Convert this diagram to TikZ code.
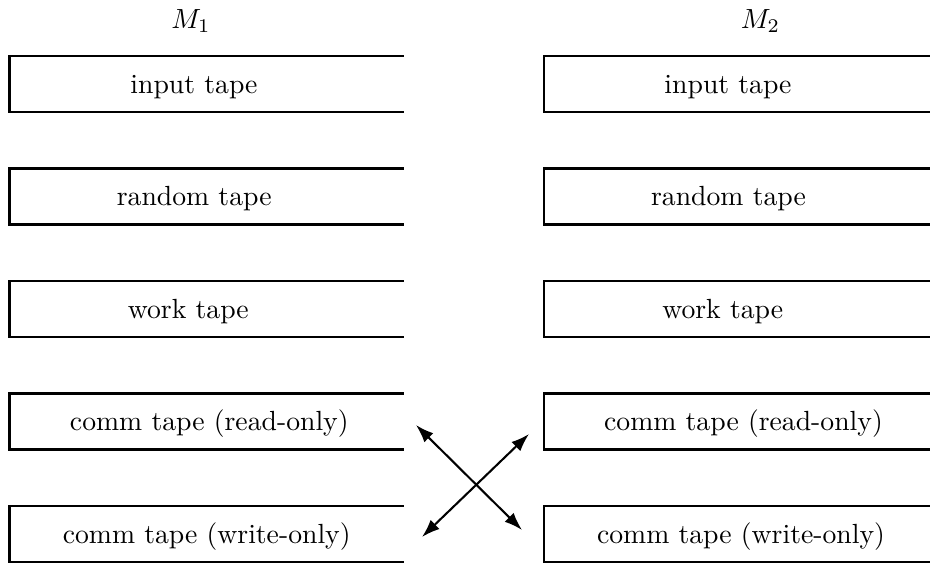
\documentclass[tikz,border=0pt]{standalone}
\usetikzlibrary{arrows.meta}
\begin{document}
\begin{tikzpicture}[x=0.361pt,y=-0.361pt,
  tapeline/.style={line width=0.75pt},
  lbl/.style={anchor=base, inner sep=0pt},
  link/.style={line width=0.75pt, {Latex[length=6.5pt,width=4.6pt]}-{Latex[length=6.5pt,width=4.6pt]}}]
\useasboundingbox (0,0) rectangle (930,564);
% machine labels
\node[lbl] (m1) at (191,28) {$M_1$};
\node[lbl] (m2) at (760.5,28) {$M_2$};
% left tapes
\draw[tapeline] (403.5,56) -- (9.5,56) -- (9.5,112) -- (403.5,112);
\draw[tapeline] (403.5,168.5) -- (9.5,168.5) -- (9.5,224.5) -- (403.5,224.5);
\draw[tapeline] (403.5,281) -- (9.5,281) -- (9.5,337) -- (403.5,337);
\draw[tapeline] (403.5,393.5) -- (9.5,393.5) -- (9.5,449.5) -- (403.5,449.5);
\draw[tapeline] (403.5,506) -- (9.5,506) -- (9.5,562) -- (403.5,562);
% right tapes
\draw[tapeline] (940,56) -- (544,56) -- (544,112) -- (940,112);
\draw[tapeline] (940,168.5) -- (544,168.5) -- (544,224.5) -- (940,224.5);
\draw[tapeline] (940,281) -- (544,281) -- (544,337) -- (940,337);
\draw[tapeline] (940,393.5) -- (544,393.5) -- (544,449.5) -- (940,449.5);
\draw[tapeline] (940,506) -- (544,506) -- (544,562) -- (940,562);
% left texts
\node[lbl] (l1) at (194,93.3) {input tape};
\node[lbl] (l2) at (194.2,205.8) {random tape};
\node[lbl] (l3) at (188.3,318.3) {work tape};
\node[lbl] (l4) at (209.3,430.8) {comm tape (read-only)};
\node[lbl] (l5) at (206.7,543.3) {comm tape (write-only)};
% right texts
\node[lbl] (r1) at (728,93.3) {input tape};
\node[lbl] (r2) at (728.5,205.8) {random tape};
\node[lbl] (r3) at (722.7,318.3) {work tape};
\node[lbl] (r4) at (743.5,430.8) {comm tape (read-only)};
\node[lbl] (r5) at (741,543.3) {comm tape (write-only)};
% connector ends
\coordinate (lr) at (416,425);
\coordinate (rw) at (522,530);
\coordinate (lw) at (422,537);
\coordinate (rr) at (529,434);
\draw[link] (lr) -- (rw);
\draw[link] (lw) -- (rr);
\end{tikzpicture}
\end{document}
